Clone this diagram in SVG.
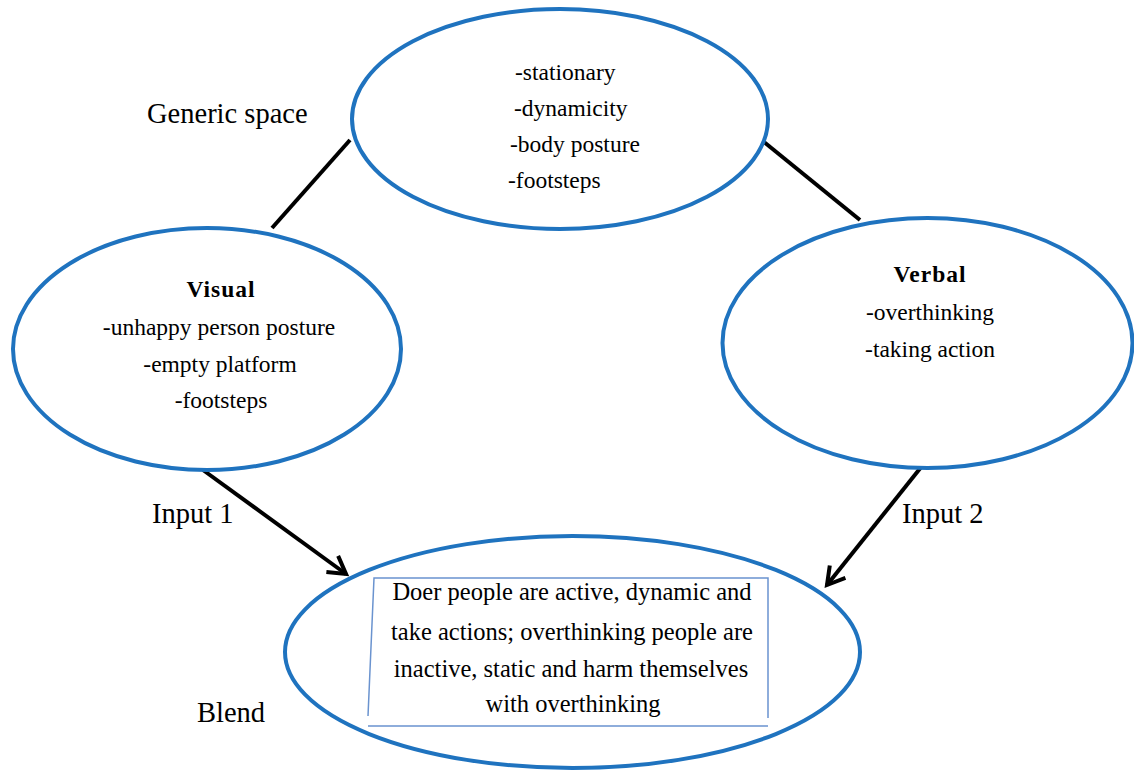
<svg xmlns="http://www.w3.org/2000/svg" width="1134" height="771" viewBox="0 0 1134 771">
<style>
.ell{fill:#ffffff;stroke:#1f73bf;stroke-width:4}
.t{font-family:"Liberation Serif","Times New Roman",serif;font-size:23.5px;fill:#000}
.c{text-anchor:middle}
.b{font-weight:bold;letter-spacing:1px}
.lbl{font-family:"Liberation Serif","Times New Roman",serif;font-size:28.5px;fill:#000}
.con{stroke:#000;stroke-width:4;fill:none}
.box{fill:none;stroke:#6a93cf;stroke-width:1.5}
</style>
<defs>
<marker id="arr" markerUnits="userSpaceOnUse" markerWidth="40" markerHeight="40" viewBox="-30 -20 40 40" refX="0" refY="0" orient="auto">
<path d="M-17,-10 L0,0 L-17,10" fill="none" stroke="#000" stroke-width="4" stroke-linejoin="miter"/>
</marker>
</defs>
<rect width="1134" height="771" fill="#ffffff"/>
<g id="connectors">
<line class="con" x1="350" y1="140" x2="272" y2="228"/>
<line class="con" x1="764" y1="142" x2="860" y2="220"/>
<line class="con" x1="203" y1="470" x2="346" y2="574" marker-end="url(#arr)"/>
<line class="con" x1="922" y1="466" x2="827" y2="585" marker-end="url(#arr)"/>
</g>
<g id="generic">
<ellipse class="ell" cx="560" cy="119" rx="208" ry="110"/>
<text class="t" x="515" y="80">-stationary</text>
<text class="t" x="514" y="116">-dynamicity</text>
<text class="t" x="510" y="152">-body posture</text>
<text class="t" x="508" y="188">-footsteps</text>
</g>
<g id="visual">
<ellipse class="ell" cx="207" cy="349" rx="194" ry="121"/>
<text class="t c b" x="221" y="297">Visual</text>
<text class="t c" x="219" y="335">-unhappy person posture</text>
<text class="t c" x="220" y="372">-empty platform</text>
<text class="t c" x="221" y="408">-footsteps</text>
</g>
<g id="verbal">
<ellipse class="ell" cx="927.5" cy="343" rx="205" ry="125"/>
<text class="t c b" x="930" y="282">Verbal</text>
<text class="t c" x="930" y="320">-overthinking</text>
<text class="t c" x="930" y="357">-taking action</text>
</g>
<g id="blend">
<ellipse class="ell" cx="572.5" cy="652" rx="287.5" ry="116"/>
<path class="box" d="M368,716 L374,578 L768,578 L768,718 M368,726 L768,726"/>
<text class="t c" x="572" y="600" style="font-size:24.5px">Doer people are active, dynamic and</text>
<text class="t c" x="572" y="640" style="font-size:24.5px">take actions; overthinking people are</text>
<text class="t c" x="571" y="677" style="font-size:24.5px">inactive, static and harm themselves</text>
<text class="t c" x="573" y="712" style="font-size:24.5px">with overthinking</text>
</g>
<g id="labels">
<text class="lbl" x="147" y="123">Generic space</text>
<text class="lbl" x="152" y="523">Input 1</text>
<text class="lbl" x="902" y="523">Input 2</text>
<text class="lbl" x="197" y="722">Blend</text>
</g>
</svg>
